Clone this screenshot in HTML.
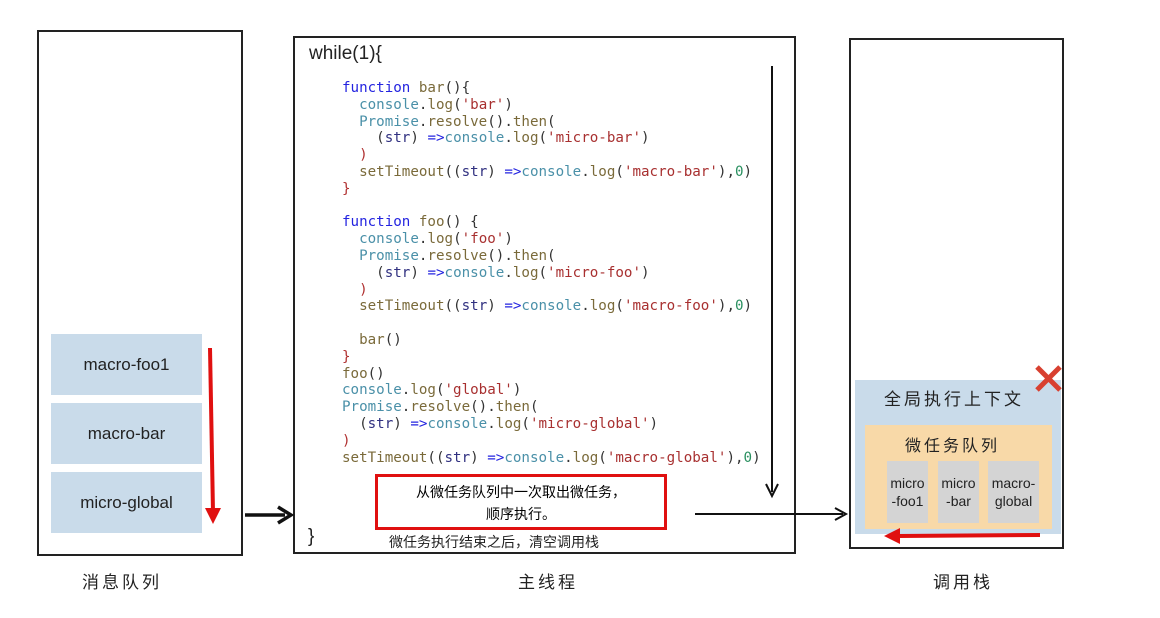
<html><head><style>
body{margin:0;width:1160px;height:618px;background:#fff;position:relative;font-family:"Liberation Sans","Noto Sans CJK SC",sans-serif;overflow:hidden}
.b{position:absolute;border:2px solid #222;box-sizing:border-box}
.a{position:absolute}
.q{position:absolute;background:#c9dbea;font-size:17px;color:#222;display:flex;align-items:center;justify-content:center}
pre{position:absolute;left:342px;top:80px;margin:0;font-family:"DejaVu Sans Mono",monospace;font-size:14.2px;line-height:16.8px;color:#333}
.k{color:#2424e0}.f{color:#7a6a3a}.c{color:#4a90a8}.s{color:#a83030}.v{color:#303080}.n{color:#2a9060}.r{color:#b03030}
.t{position:absolute;font-size:17px;color:#222}
.g{position:absolute;background:#d4d4d4;font-size:14px;text-align:center;color:#222;line-height:18px;display:flex;align-items:center;justify-content:center}
</style></head><body>
<div class="b" style="left:37px;top:30px;width:206px;height:526px"></div>
<div class="b" style="left:293px;top:36px;width:503px;height:518px"></div>
<div class="b" style="left:849px;top:38px;width:215px;height:511px"></div>
<div class="q" style="left:51px;top:334px;width:151px;height:61px">macro-foo1</div>
<div class="q" style="left:51px;top:403px;width:151px;height:61px">macro-bar</div>
<div class="q" style="left:51px;top:472px;width:151px;height:61px">micro-global</div>
<div class="t" style="left:309px;top:43px;font-size:19px">while(1){</div>
<div class="t" style="left:308px;top:526px;font-size:19px">}</div>
<pre><span class="k">function</span> <span class="f">bar</span>(){
  <span class="c">console</span>.<span class="f">log</span>(<span class="s">'bar'</span>)
  <span class="c">Promise</span>.<span class="f">resolve</span>().<span class="f">then</span>(
    (<span class="v">str</span>) <span class="k">=&gt;</span><span class="c">console</span>.<span class="f">log</span>(<span class="s">'micro-bar'</span>)
  <span class="r">)</span>
  <span class="f">setTimeout</span>((<span class="v">str</span>) <span class="k">=&gt;</span><span class="c">console</span>.<span class="f">log</span>(<span class="s">'macro-bar'</span>),<span class="n">0</span>)
<span class="r">}</span>

<span class="k">function</span> <span class="f">foo</span>() {
  <span class="c">console</span>.<span class="f">log</span>(<span class="s">'foo'</span>)
  <span class="c">Promise</span>.<span class="f">resolve</span>().<span class="f">then</span>(
    (<span class="v">str</span>) <span class="k">=&gt;</span><span class="c">console</span>.<span class="f">log</span>(<span class="s">'micro-foo'</span>)
  <span class="r">)</span>
  <span class="f">setTimeout</span>((<span class="v">str</span>) <span class="k">=&gt;</span><span class="c">console</span>.<span class="f">log</span>(<span class="s">'macro-foo'</span>),<span class="n">0</span>)

  <span class="f">bar</span>()
<span class="r">}</span>
<span class="f">foo</span>()
<span class="c">console</span>.<span class="f">log</span>(<span class="s">'global'</span>)
<span class="c">Promise</span>.<span class="f">resolve</span>().<span class="f">then</span>(
  (<span class="v">str</span>) <span class="k">=&gt;</span><span class="c">console</span>.<span class="f">log</span>(<span class="s">'micro-global'</span>)
<span class="r">)</span>
<span class="f">setTimeout</span>((<span class="v">str</span>) <span class="k">=&gt;</span><span class="c">console</span>.<span class="f">log</span>(<span class="s">'macro-global'</span>),<span class="n">0</span>)</pre>
<div class="a" style="left:375px;top:474px;width:292px;height:56px;border:3px solid #e01010;box-sizing:border-box;font-size:14px;text-align:center;line-height:22px;padding-top:4px">从微任务队列中一次取出微任务，<br>顺序执行。</div>
<div class="t" style="left:389px;top:532px;font-size:14px">微任务执行结束之后，清空调用栈</div>
<div class="a" style="left:855px;top:380px;width:206px;height:154px;background:#c9dbea"></div>
<div class="t" style="left:884px;top:385px;font-size:17px;letter-spacing:3px">全局执行上下文</div>
<div class="a" style="left:865px;top:425px;width:187px;height:104px;background:#f8d9a8"></div>
<div class="t" style="left:905px;top:432px;font-size:16px;letter-spacing:3px">微任务队列</div>
<div class="g" style="left:887px;top:461px;width:41px;height:62px">micro<br>-foo1</div>
<div class="g" style="left:938px;top:461px;width:41px;height:62px">micro<br>-bar</div>
<div class="g" style="left:988px;top:461px;width:51px;height:62px">macro-<br>global</div>
<div class="t" style="left:82px;top:568px;letter-spacing:3px">消息队列</div>
<div class="t" style="left:518px;top:568px;letter-spacing:3px">主线程</div>
<div class="t" style="left:933px;top:568px;letter-spacing:3px">调用栈</div>
<svg class="a" style="left:0;top:0" width="1160" height="618">
<line x1="210" y1="348" x2="213" y2="512" stroke="#e01010" stroke-width="4"/>
<polygon points="205,508 221,508 213,524" fill="#e01010"/>
<line x1="1040" y1="535" x2="898" y2="536" stroke="#e01010" stroke-width="4"/>
<polygon points="900,528 900,544 884,536" fill="#e01010"/>
<line x1="245" y1="515" x2="285" y2="515" stroke="#111" stroke-width="3.5"/>
<polyline points="278,507 291,515 278,523" fill="none" stroke="#111" stroke-width="3.5"/>
<line x1="695" y1="514" x2="843" y2="514" stroke="#111" stroke-width="2"/>
<polyline points="835,508 846,514 835,520" fill="none" stroke="#111" stroke-width="2"/>
<line x1="772" y1="66" x2="772" y2="492" stroke="#111" stroke-width="2"/>
<polyline points="766,484 772,496 778,484" fill="none" stroke="#111" stroke-width="2"/>
<line x1="1037" y1="367" x2="1060" y2="390" stroke="#d84030" stroke-width="5"/>
<line x1="1060" y1="367" x2="1037" y2="390" stroke="#d84030" stroke-width="5"/>
</svg>
</body></html>
